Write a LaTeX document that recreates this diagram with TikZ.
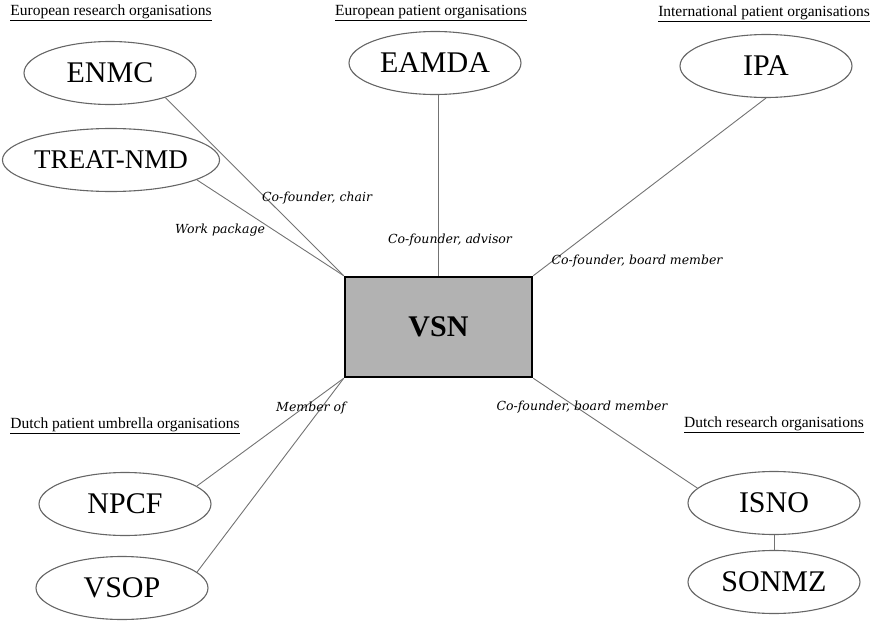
\documentclass[tikz,border=0pt]{standalone}
\usepackage{fontspec}
\setmainfont{Liberation Serif}
\newfontfamily\lblfont{DejaVu Serif}
\usetikzlibrary{shapes.geometric}
\begin{document}
\begin{tikzpicture}[x=1pt,y=-1pt,
  org/.style={ellipse,draw=black!60,line width=1.1pt,minimum width=172pt,minimum height=63pt,inner sep=0pt,font=\fontsize{30}{34}\selectfont},
  hub/.style={rectangle,draw=black,line width=2.5pt,fill=black!30,minimum width=187pt,minimum height=100pt,inner sep=0pt,font=\fontsize{30}{34}\selectfont\bfseries},
  head/.style={inner sep=0pt,font=\fontsize{15.5}{18}\selectfont},
  rel/.style={inner sep=0pt,font=\lblfont\itshape\fontsize{12.5}{14}\selectfont},
  link/.style={draw=black!55,line width=0.9pt}]
\useasboundingbox (0,0) rectangle (871,621);
% headings
\node[head] (h1) at (111,13) {\underline{European research organisations}};
\node[head] (h2) at (431,13) {\underline{European patient organisations}};
\node[head] (h3) at (764,14) {\underline{International patient organisations}};
\node[head] (h4) at (125,426) {\underline{Dutch patient umbrella organisations}};
\node[head] (h5) at (774,425) {\underline{Dutch research organisations}};
% nodes
\node[hub] (vsn) at (438.5,327) {VSN};
\node[org] (enmc) at (110,73) {ENMC};
\node[org,font=\fontsize{27}{30}\selectfont] (treat) at (111,160) {TREAT-NMD};
\node[org] (eamda) at (435,63) {EAMDA};
\node[org] (ipa) at (766,66) {IPA};
\node[org] (npcf) at (125,504) {NPCF};
\node[org] (vsop) at (122,588) {VSOP};
\node[org] (isno) at (774,503) {ISNO};
\node[org] (sonmz) at (774,582) {SONMZ};
% links
\draw[link] (enmc.-24) -- (vsn.north west);
\draw[link] (treat.-13) -- (vsn.north west);
\draw[link] (vsn.north |- eamda.south) -- (vsn.north);
\draw[link] (ipa.south) -- (vsn.north east);
\draw[link] (npcf.14) -- (vsn.south west);
\draw[link] (vsop.12) -- (vsn.south west);
\draw[link] (isno.169) -- (vsn.south east);
\draw[link] (isno.south) -- (sonmz.north);
% relation labels
\node[rel] (l1) at (317,198) {Co-founder, chair};
\node[rel] (l2) at (220,230) {Work package};
\node[rel] (l3) at (450,240) {Co-founder, advisor};
\node[rel] (l4) at (637,261) {Co-founder, board member};
\node[rel] (l5) at (311,408) {Member of};
\node[rel] (l6) at (582,407) {Co-founder, board member};
\end{tikzpicture}
\end{document}
